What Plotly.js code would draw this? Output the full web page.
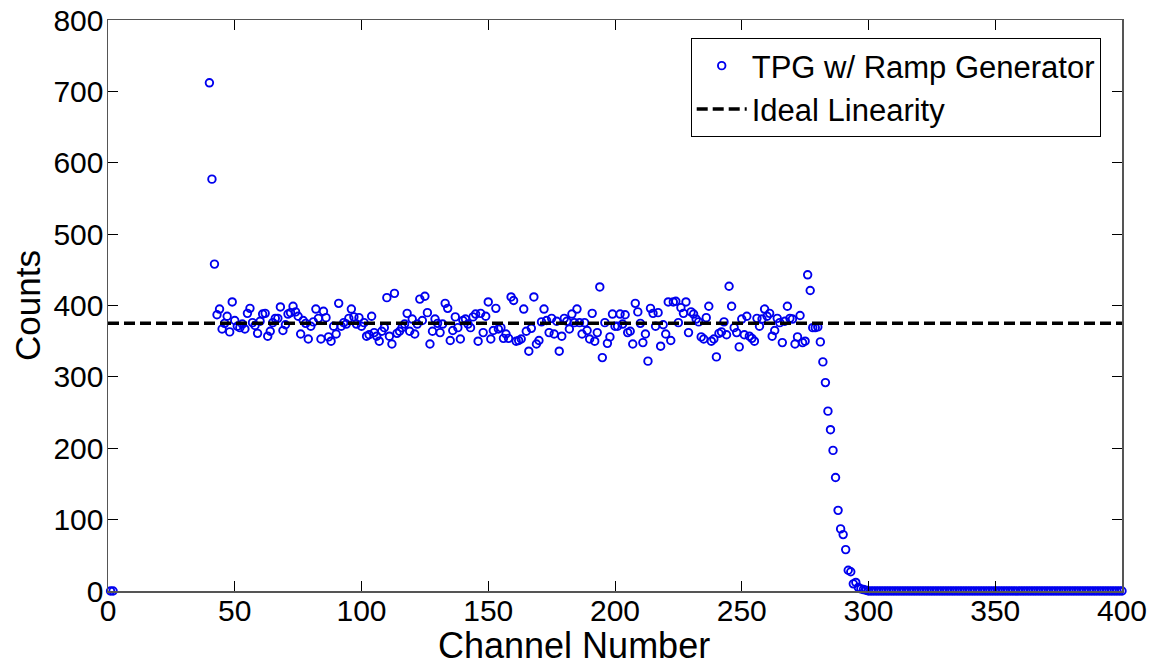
<!DOCTYPE html>
<html>
<head>
<meta charset="utf-8">
<script src="https://cdn.plot.ly/plotly-3.0.1.min.js"></script>
<style>
  html, body { margin: 0; padding: 0; background: #ffffff; }
  #chart { width: 1156px; height: 665px; }
</style>
</head>
<body>
<div id="chart"></div>
<script>
// ---- Data ----
const lowChannels = [1, 2];
const lowCounts = [0, 0];

const firstChannel = 40; // counts below start at channel 40 and run one per channel to 400
const spikeCounts = [712, 577, 458];
const plateauA = [387,395,367,375,385,363,405,379,371,369,374,367,389,396,376,372,361,378,388,389,357,364,376,382,382,398,365,373,388,390,399,391,385,360,379,375,353,371,377,395,382];
const plateauB = [353,392,383,356,350,371,360,403,371,376,374,382,395,384,374,383,371,376,357,359,385,362,357,350,364,369,411,357,346,417,361,364,369,374,389,364,381,360,374,409,379,413,390,346,364,381,375,362];
const plateauC = [374,403,396,351,365,384,369,353,379,381,374,369,384,388,350,389,362,385,405,353,365,396,367,369,354,360,354,412,407,350,351,353,395,364,336,368,412,346,351,377,395,379,362,382,360,378,336];
const plateauD = [357,382,378,367,388,376,395,376,360,376,365,353,389,350,362,426,327,376,347,356,388,371,371,388,374,387,362,364,346,403,391,375,348,360,322,396,389,371,390,343,373,360,405,351,405,406,376];
const plateauE = [397,389,405,362,391,388,381,377,356,353,383,399,350,353,328,361,363,377,359,427,399,369,362,342,381,359,385,357,354,350,382,371,381,395,385,389,357,365,382,376,348,378,399,382,381,346,356];
const fallCounts = [386,348,350,443,421,369,369,370,349,321,292,252,226,197,159,113,87,79,58,29,27,10,12,5,3,2,1];
const tailCounts = [
  0,0,0,0,0,0,0,0,0,0,
  0,0,0,0,0,0,0,0,0,0,
  0,0,0,0,0,0,0,0,0,0,
  0,0,0,0,0,0,0,0,0,0,
  0,0,0,0,0,0,0,0,0,0,
  0,0,0,0,0,0,0,0,0,0,
  0,0,0,0,0,0,0,0,0,0,
  0,0,0,0,0,0,0,0,0,0,
  0,0,0,0,0,0,0,0,0,0,
  0,0,0,0,0,0,0,0,0,0,
  0
];

const idealLevel = 375;
const idealRange = [0, 400];

const xTicks = [0, 50, 100, 150, 200, 250, 300, 350, 400];
const yTicks = [0, 100, 200, 300, 400, 500, 600, 700, 800];

const seriesName = "TPG w/ Ramp Generator";
const idealName = "Ideal Linearity";
const xTitle = "Channel Number";
const yTitle = "Counts";

// ---- Build traces ----
const mainCounts = [].concat(spikeCounts, plateauA, plateauB, plateauC, plateauD, plateauE, fallCounts, tailCounts);
const xs = lowChannels.slice();
const ys = lowCounts.slice();
mainCounts.forEach((c, i) => { xs.push(firstChannel + i); ys.push(c); });

const FONT = "Liberation Sans, Arial, sans-serif";

const traces = [
  {
    type: "scatter",
    mode: "markers",
    name: seriesName,
    x: xs,
    y: ys,
    cliponaxis: false,
    marker: { symbol: "circle-open", size: 7.5, color: "#0000ee", line: { width: 1.9, color: "#0000ee" } }
  },
  {
    type: "scatter",
    mode: "lines",
    name: idealName,
    x: idealRange,
    y: [idealLevel, idealLevel],
    line: { color: "#000000", width: 3.5, dash: "11px,5px" }
  }
];

const axisCommon = {
  showgrid: false,
  zeroline: false,
  showline: true,
  linecolor: "#555555",
  linewidth: 1.5,
  mirror: "ticks",
  ticks: "inside",
  ticklen: 10,
  tickwidth: 1,
  tickcolor: "#000000",
  tickfont: { family: FONT, size: 30, color: "#000000" }
};

const layout = {
  width: 1156,
  height: 665,
  paper_bgcolor: "#ffffff",
  plot_bgcolor: "#ffffff",
  margin: { l: 108, r: 34, t: 20, b: 74, pad: 0 },
  showlegend: true,
  legend: {
    x: 0.979, xanchor: "right",
    y: 0.9685, yanchor: "top",
    bordercolor: "#000000",
    borderwidth: 1,
    bgcolor: "#ffffff",
    itemwidth: 50,
    font: { family: FONT, size: 31, color: "#000000" },
    tracegroupgap: 0
  },
  xaxis: Object.assign({}, axisCommon, {
    range: [0, 400],
    tickmode: "array",
    tickvals: xTicks,
    ticktext: xTicks.map(String),
    ticklabelstandoff: -8
  }),
  yaxis: Object.assign({}, axisCommon, {
    range: [0, 800],
    tickmode: "array",
    tickvals: yTicks,
    ticktext: yTicks.map(String),
    ticklabelstandoff: -3,
    title: { text: yTitle, font: { family: FONT, size: 35, color: "#000000" }, standoff: 2 }
  }),
  annotations: [
    {
      text: xTitle,
      xref: "paper", yref: "paper",
      x: 0.4596, y: -0.0963,
      xanchor: "center", yanchor: "middle",
      showarrow: false,
      font: { family: FONT, size: 36, color: "#000000" }
    }
  ]
};

Plotly.newPlot("chart", traces, layout, { displayModeBar: false, staticPlot: true });
</script>
</body>
</html>
